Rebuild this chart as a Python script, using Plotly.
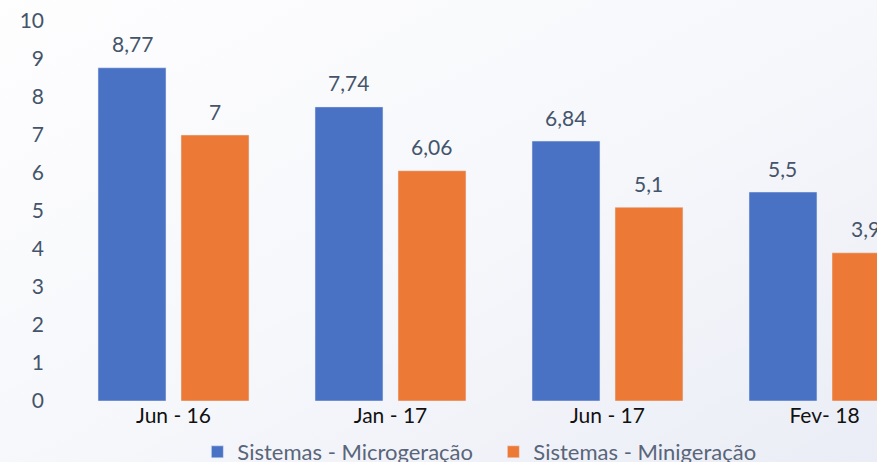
import base64
import plotly.graph_objects as go

# dados
periodos = ["Jun - 16", "Jan - 17", "Jun - 17", "Fev- 18"]
microgeracao = [8.77, 7.74, 6.84, 5.5]
minigeracao = [7, 6.06, 5.1, 3.9]

nome_micro = "Sistemas - Microgeração"
nome_mini = "Sistemas - Minigeração"

azul = "#4A72C4"
laranja = "#EC7A36"
cinza_txt = "#44546A"
fonte = "Lato"


def rotulo(v):
    return f"{v:g}".replace(".", ",")


fig = go.Figure()
fig.add_trace(go.Bar(x=periodos, y=microgeracao, name=nome_micro, marker_color=azul))
fig.add_trace(go.Bar(x=periodos, y=minigeracao, name=nome_mini, marker_color=laranja))

# rótulos de dados acima das barras
for serie, desloc in ((microgeracao, -41.5), (minigeracao, 41.5)):
    for p, v in zip(periodos, serie):
        fig.add_annotation(
            x=p, y=v, text=rotulo(v), showarrow=False,
            xshift=desloc, yshift=24,
            font=dict(family=fonte, size=21, color=cinza_txt),
        )

# fundo com leve degradê
svg = (
    '<svg xmlns="http://www.w3.org/2000/svg" viewBox="0 0 100 100" width="100" height="100" '
    'preserveAspectRatio="none">'
    '<defs><linearGradient id="g" x1="0" y1="0" x2="1" y2="1">'
    '<stop offset="0" stop-color="#FFFFFF"/><stop offset="0.5" stop-color="#F6F7FB"/>'
    '<stop offset="1" stop-color="#E6E9F4"/></linearGradient></defs>'
    '<rect width="100" height="100" fill="url(#g)"/></svg>'
)
fig.add_layout_image(
    source="data:image/svg+xml;base64," + base64.b64encode(svg.encode()).decode(),
    xref="paper", yref="paper", x=-0.2, y=1.2, sizex=1.4, sizey=1.6,
    xanchor="left", yanchor="top", sizing="stretch", layer="below",
)

fig.update_layout(
    width=877, height=462,
    margin=dict(l=65, r=0, t=21, b=61, autoexpand=False),
    paper_bgcolor="white", plot_bgcolor="rgba(0,0,0,0)",
    bargap=0.235, bargroupgap=0.181,
    font=dict(family=fonte, size=20, color=cinza_txt),
    legend=dict(
        orientation="h", x=0.163, y=-0.079, xanchor="left", yanchor="top",
        font=dict(family=fonte, size=22, color="#596579"),
        bgcolor="rgba(0,0,0,0)", itemwidth=30, entrywidth=251,
    ),
    showlegend=True,
)
fig.update_xaxes(
    range=[-0.5, 3.242], showgrid=False, showline=False, zeroline=False,
    tickfont=dict(family=fonte, size=21, color="#111111"), ticks="",
)
fig.update_yaxes(
    range=[0, 10], dtick=1, showgrid=False, showline=False, zeroline=False,
    ticklabelstandoff=20, ticklabeloverflow="allow",
    tickfont=dict(family=fonte, size=21, color=cinza_txt),
)

# sem margem da página, para a figura ocupar a janela inteira
fig.write_html(
    "out.html",
    config={"displayModeBar": False},
    post_script="document.body.style.margin='0';",
)
